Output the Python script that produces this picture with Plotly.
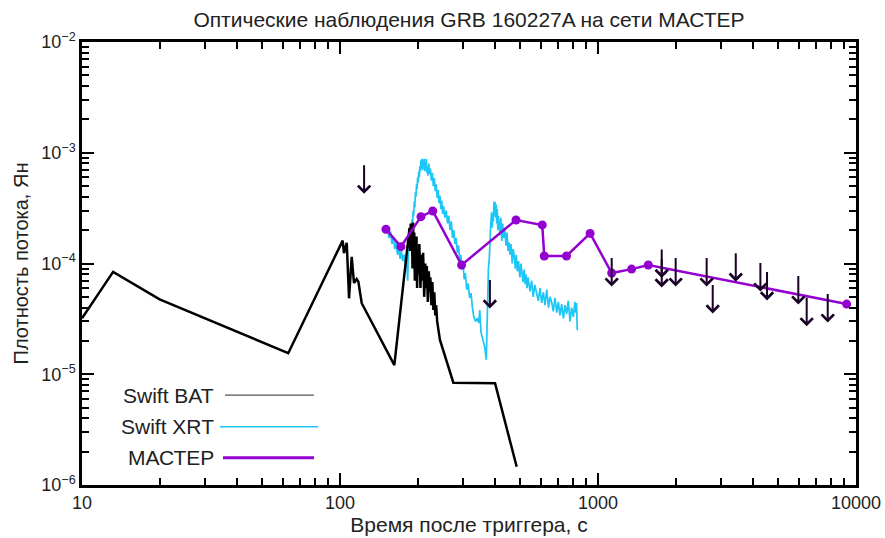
import numpy as np
import plotly.graph_objects as go

# ---------------- data ----------------
# Swift BAT (time s, flux Jy)
bat_points = [
    (10, 3.2e-5), (13.2, 8.4e-5), (20, 4.75e-5), (63, 1.55e-5), (102.4, 1.61e-4),
    (103.6, 1.24e-4), (106.2, 1.54e-4), (108.4, 4.85e-5), (111.0, 1.15e-4), (113.3, 6.67e-5),
    (116.0, 7.24e-5), (117.8, 6.85e-5), (121.4, 4.38e-5), (162.4, 1.21e-5),
    (186, 2.1e-4), (187, 1.3e-4), (188, 2.3e-4), (189, 1.6e-4), (190, 2.2e-4), (191, 9e-5),
    (192, 2.35e-4), (193, 1.1e-4), (194, 1.9e-4), (195, 7.0e-5), (196, 1.5e-4), (197, 9e-5),
    (198, 1.75e-4), (199, 6.0e-5), (200, 1.3e-4), (202, 8e-5), (203, 1.5e-4), (205, 6.0e-5),
    (207, 1.2e-4), (208, 7e-5), (210, 1.25e-4), (212, 5.0e-5), (214, 1.0e-4), (215, 6e-5),
    (217, 9.5e-5), (219, 4.5e-5), (221, 8.5e-5), (222, 5.5e-5), (224, 7.5e-5), (226, 4.2e-5),
    (228, 6.8e-5), (230, 3.8e-5), (232, 5.5e-5), (234, 3.4e-5), (236, 4.2e-5), (238, 3.0e-5),
    (244, 2.04e-5), (275, 8.4e-6), (399, 8.3e-6), (484, 1.46e-6),
]

# Swift XRT, first flare
xrt1_points = [
    (152, 2.2e-4), (155, 1.7e-4), (157, 1.95e-4), (159, 1.5e-4), (161, 1.75e-4), (163, 1.35e-4),
    (165, 1.55e-4), (167, 1.2e-4), (169, 1.4e-4), (171, 1.1e-4), (173, 1.3e-4), (175, 1.05e-4),
    (177, 1.2e-4), (179, 1.0e-4), (181, 1.15e-4), (183, 7.0e-5), (184, 1.3e-4), (185, 1.3e-4),
    (186, 1.6e-4), (187, 1.45e-4), (188, 2.0e-4), (189, 1.8e-4), (190, 2.5e-4), (191, 2.2e-4),
    (192, 3.0e-4), (193, 2.7e-4), (194, 3.6e-4), (195, 3.2e-4), (196, 4.4e-4), (197, 4.0e-4),
    (198, 5.2e-4), (199, 4.7e-4), (200, 6.0e-4), (201, 5.4e-4), (202, 6.8e-4), (203, 6.0e-4),
    (204, 7.6e-4), (205, 6.8e-4), (206, 8.6e-4), (207, 7.2e-4), (208, 8.8e-4), (209, 7.0e-4),
    (210, 8.6e-4), (211, 7.4e-4), (212, 8.8e-4), (213, 6.8e-4), (214, 8.2e-4), (215, 7.0e-4),
    (216, 8.8e-4), (217, 6.6e-4), (218, 7.6e-4), (219, 6.2e-4), (220, 7.0e-4), (221, 8.0e-4),
    (222, 6.4e-4), (224, 7.2e-4), (226, 5.6e-4), (228, 6.6e-4), (230, 5.0e-4), (232, 5.9e-4),
    (234, 4.5e-4), (236, 5.2e-4), (238, 3.9e-4), (240, 4.6e-4), (242, 3.5e-4), (244, 4.1e-4),
    (246, 3.1e-4), (248, 3.7e-4), (250, 2.8e-4), (252, 3.3e-4), (255, 2.6e-4), (258, 3.0e-4),
    (261, 2.3e-4), (264, 2.7e-4), (267, 2.0e-4), (270, 2.4e-4), (273, 1.7e-4), (276, 2.0e-4),
    (279, 1.5e-4), (282, 1.7e-4), (285, 1.25e-4), (288, 1.45e-4), (291, 1.05e-4), (294, 1.2e-4),
    (297, 8.8e-5), (300, 9.8e-5), (303, 7.2e-5), (306, 8.2e-5), (310, 5.8e-5), (314, 6.6e-5),
    (318, 4.9e-5), (322, 5.4e-5), (326, 4.0e-5), (330, 3.3e-5), (335, 3.0e-5), (340, 3.2e-5),
    (345, 2.9e-5), (348, 3.8e-5), (352, 2.4e-5), (358, 2.0e-5), (364, 1.75e-5), (369, 1.35e-5),
]

# Swift XRT, second flare
xrt2_points = [
    (373, 6.0e-5), (376, 9.0e-5), (379, 1.1e-4), (381, 1.8e-4), (384, 2.3e-4), (387, 2.9e-4),
    (389, 2.1e-4), (391, 2.8e-4), (393, 2.4e-4), (395, 3.6e-4), (397, 2.7e-4), (399, 3.6e-4),
    (401, 2.6e-4), (403, 3.4e-4), (405, 2.3e-4), (407, 3.1e-4), (409, 2.0e-4), (411, 2.7e-4),
    (414, 2.2e-4), (417, 1.8e-4), (420, 2.6e-4), (424, 1.6e-4), (427, 2.3e-4), (431, 1.7e-4),
    (435, 2.1e-4), (440, 1.45e-4), (444, 1.9e-4), (448, 1.3e-4), (452, 1.55e-4), (456, 1.2e-4),
    (460, 1.5e-4), (465, 1.0e-4), (469, 1.35e-4), (474, 1.15e-4), (478, 9.0e-5), (482, 1.2e-4),
    (487, 8.5e-5), (492, 1.05e-4), (498, 7.5e-5), (503, 1.0e-4), (508, 8.0e-5), (512, 6.8e-5),
    (517, 8.8e-5), (522, 6.5e-5), (526, 8.0e-5), (531, 6.0e-5), (536, 7.5e-5), (545, 5.6e-5),
    (553, 7.0e-5), (561, 5.0e-5), (569, 6.4e-5), (578, 5.2e-5), (587, 4.6e-5), (596, 6.0e-5),
    (605, 4.4e-5), (614, 5.5e-5), (623, 4.2e-5), (633, 5.8e-5), (643, 4.0e-5), (652, 5.0e-5),
    (662, 4.4e-5), (671, 3.7e-5), (681, 4.9e-5), (692, 3.6e-5), (702, 4.5e-5), (712, 3.4e-5),
    (723, 4.3e-5), (734, 3.2e-5), (745, 4.2e-5), (756, 3.5e-5), (767, 4.6e-5), (779, 3.0e-5),
    (790, 4.0e-5), (802, 3.3e-5), (814, 4.5e-5), (820, 3.6e-5), (826, 4.4e-5), (831, 2.5e-5),
]

# МАСТЕР detections
master_t = [150.7, 172.3, 206.0, 228.8, 296, 481, 608, 619, 755, 932, 1130, 1350, 1566, 9200]
master_f = [2.04e-4, 1.42e-4, 2.65e-4, 2.98e-4, 9.7e-5, 2.47e-4, 2.23e-4, 1.17e-4, 1.17e-4,
            1.87e-4, 8.2e-5, 8.9e-5, 9.7e-5, 4.3e-5]

# МАСТЕР upper limits
lim_t = [124, 381, 1130, 1766, 1766, 2000, 2637, 2784, 3420, 4260, 4520, 5975, 6440, 7770]
lim_f = [7.7e-4, 7.1e-5, 1.12e-4, 1.34e-4, 1.10e-4, 1.12e-4, 1.12e-4, 6.4e-5, 1.24e-4,
         1.01e-4, 8.4e-5, 7.7e-5, 4.9e-5, 5.3e-5]

x_ticks = [10, 100, 1000, 10000]
x_ticktext = ["10", "100", "1000", "10000"]
y_ticks = [1e-6, 1e-5, 1e-4, 1e-3, 1e-2]
y_ticktext = ["10<sup>−6</sup>", "10<sup>−5</sup>", "10<sup>−4</sup>",
              "10<sup>−3</sup>", "10<sup>−2</sup>"]

legend_names = ["Swift BAT", "Swift XRT", "МАСТЕР"]

# ---------------- styles ----------------
C_BAT = "#000000"
C_XRT = "#1cc6f6"
C_MAS = "#9400d0"
C_ARR = "#1a0026"
FONT = "Liberation Sans, Arial, sans-serif"
TXT = "#222222"

bat_t, bat_f = zip(*bat_points)
xrt_pts = xrt1_points + xrt2_points
xrt_t, xrt_f = zip(*xrt_pts)

fig = go.Figure()
fig.add_trace(go.Scatter(x=xrt_t, y=xrt_f, mode="lines",
                         line=dict(color=C_XRT, width=1.7), showlegend=False))
fig.add_trace(go.Scatter(x=bat_t, y=bat_f, mode="lines",
                         line=dict(color=C_BAT, width=2.5), showlegend=False))
fig.add_trace(go.Scatter(x=master_t, y=master_f, mode="lines+markers",
                         line=dict(color=C_MAS, width=2.5),
                         marker=dict(color=C_MAS, size=9), showlegend=False))

annotations = []
for t, f in zip(lim_t, lim_f):
    annotations.append(dict(x=np.log10(t), y=np.log10(f), xref="x", yref="y",
                            text="", showarrow=True, ax=0, ay=30,
                            arrowside="start", startarrowhead=4, startarrowsize=1.2,
                            arrowwidth=2, arrowcolor=C_ARR, startstandoff=0, standoff=0))

# manual legend (text left of line)
leg_y = [0.203, 0.1316, 0.0616]
leg_x0 = [0.1848, 0.1783, 0.1822]
leg_x1 = [0.2997, 0.3049, 0.2997]
leg_col = ["#555555", C_XRT, C_MAS]
leg_w = [1.2, 1.5, 3]
shapes = []
for name, y, x0, x1, c, w in zip(legend_names, leg_y, leg_x0, leg_x1, leg_col, leg_w):
    annotations.append(dict(x=0.1725, y=y, xref="paper", yref="paper", text=name,
                            showarrow=False, xanchor="right", yanchor="middle",
                            font=dict(size=21, color=TXT, family=FONT)))
    shapes.append(dict(type="line", xref="paper", yref="paper", x0=x0, x1=x1, y0=y, y1=y,
                       line=dict(color=c, width=w)))

minor_x = [m * 10 ** d for d in range(1, 4) for m in range(2, 10)]
minor_y = [m * 10 ** d for d in range(-6, -2) for m in range(2, 10)]

axis_common = dict(type="log", showline=True, linewidth=2.5, linecolor="black",
                   mirror="allticks", ticks="inside", ticklen=12, tickwidth=2,
                   tickcolor="black", showgrid=False, zeroline=False, automargin=False,
                   tickfont=dict(size=18, color=TXT, family=FONT))

fig.update_layout(
    width=885, height=538,
    margin=dict(l=82, r=29, t=42, b=53, autoexpand=False),
    paper_bgcolor="white", plot_bgcolor="white",
    font=dict(family=FONT, color=TXT),
    title=dict(text="Оптические наблюдения GRB 160227A на сети МАСТЕР",
               x=0.5, xref="paper", xanchor="center",
               y=1 - 20 / 538, yref="container", yanchor="middle",
               font=dict(size=21, color=TXT, family=FONT)),
    xaxis=dict(range=[1, 4], tickmode="array", tickvals=x_ticks, ticktext=x_ticktext,
               minor=dict(tickmode="array", tickvals=minor_x, ticks="inside", ticklen=7,
                          tickwidth=1.5, tickcolor="black", showgrid=False),
               title=dict(text="Время после триггера, с", standoff=4,
                          font=dict(size=21, color=TXT, family=FONT)),
               **axis_common),
    yaxis=dict(range=[-6, -2], tickmode="array", tickvals=y_ticks, ticktext=y_ticktext,
               minor=dict(tickmode="array", tickvals=minor_y, ticks="inside", ticklen=7,
                          tickwidth=1.5, tickcolor="black", showgrid=False),
               title=dict(text="Плотность потока, Ян", standoff=8,
                          font=dict(size=20, color=TXT, family=FONT)),
               **axis_common),
    annotations=annotations,
    shapes=shapes,
)

fig.write_html("out.html")
